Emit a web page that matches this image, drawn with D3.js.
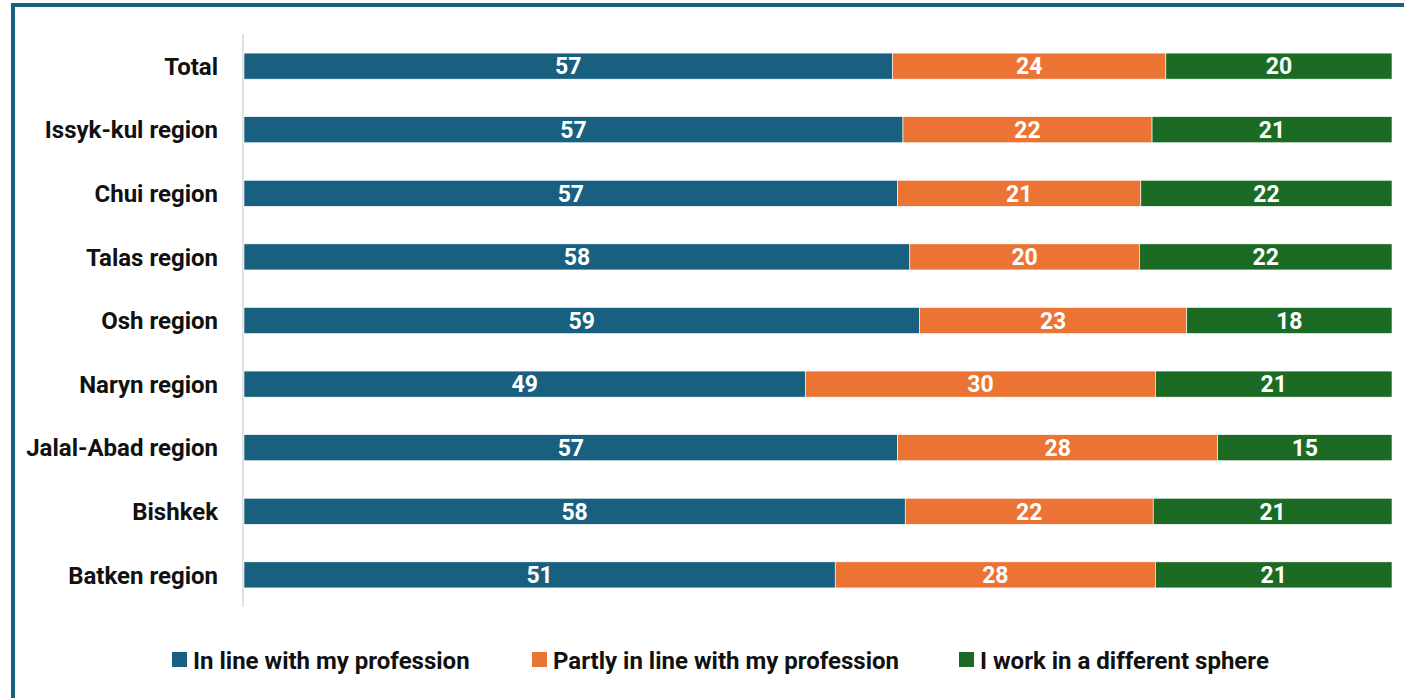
<!DOCTYPE html>
<html><head><meta charset="utf-8">
<script src="https://cdn.jsdelivr.net/npm/d3@7"></script>
<style>body{margin:0;background:#fff;}svg{display:block;font-family:Roboto,"Open Sans",sans-serif;}</style>
</head><body>
<svg id="c" width="1404" height="698"></svg>
<script>
const categories = ["Total","Issyk-kul region","Chui region","Talas region","Osh region","Naryn region","Jalal-Abad region","Bishkek","Batken region"];
const inLine  = [56.5,57.4,57.0,58.0,58.9,48.9,57.0,57.6,51.5];
const partly  = [23.8,21.7,21.2,20.0,23.3,30.5,27.9,21.6,27.9];
const diff    = [19.7,20.9,21.9,22.0,17.9,20.6,15.2,20.8,20.6];
const labelsInLine = [57,57,57,58,59,49,57,58,51];
const labelsPartly = [24,22,21,20,23,30,28,22,28];
const labelsDiff   = [20,21,22,22,18,21,15,21,21];
const seriesNames = ["In line with my profession","Partly in line with my profession","I work in a different sphere"];
const colors = ["#185f80","#eb7334","#1b6b25"];

const svg = d3.select("#c");
svg.append("rect").attr("x",13).attr("y",5).attr("width",1400).attr("height",700)
  .attr("fill","none").attr("stroke","#1a5f80").attr("stroke-width",4);

const x0 = 244, x1 = 1392;
const y = d3.scaleBand().domain(categories).range([34,607]).paddingInner(0.59).paddingOuter(0.3);
const series = [inLine, partly, diff];
const labs = [labelsInLine, labelsPartly, labelsDiff];

const rows = categories.map((c,i)=>{
  const tot = inLine[i]+partly[i]+diff[i];
  return {c, vals: series.map(s=>s[i]/tot*100), labs: labs.map(l=>l[i])};
});
const x = d3.scaleLinear().domain([0,100]).range([x0,x1]);

svg.append("line").attr("x1",243).attr("x2",243).attr("y1",34).attr("y2",607)
  .attr("stroke","#d9d9d9").attr("stroke-width",1.5);

rows.forEach(r=>{
  let acc = 0;
  r.vals.forEach((v,k)=>{
    const g = svg.append("g");
    g.append("rect").attr("x",x(acc)).attr("y",y(r.c)).attr("width",x(acc+v)-x(acc)).attr("height",y.bandwidth())
      .attr("fill",colors[k]).attr("stroke","#fff").attr("stroke-width",0.6);
    g.append("text").attr("x",(x(acc)+x(acc+v))/2).attr("y",y(r.c)+y.bandwidth()/2).attr("dy","0.36em")
      .attr("text-anchor","middle").attr("fill","#fff").attr("font-weight",700).attr("font-size",23)
      .text(r.labs[k]);
    acc += v;
  });
  svg.append("text").attr("x",218).attr("y",y(r.c)+y.bandwidth()/2).attr("dy","0.36em")
    .attr("text-anchor","end").attr("font-weight",700).attr("font-size",24).attr("fill","#111")
    .text(r.c);
});

const legX = [172,532,959];
seriesNames.forEach((n,k)=>{
  svg.append("rect").attr("x",legX[k]).attr("y",652).attr("width",15).attr("height",15).attr("fill",colors[k]);
  svg.append("text").attr("x",legX[k]+21).attr("y",660).attr("dy","0.36em").attr("font-weight",700)
    .attr("font-size",24).attr("fill","#111").text(n);
});
</script>
</body></html>
